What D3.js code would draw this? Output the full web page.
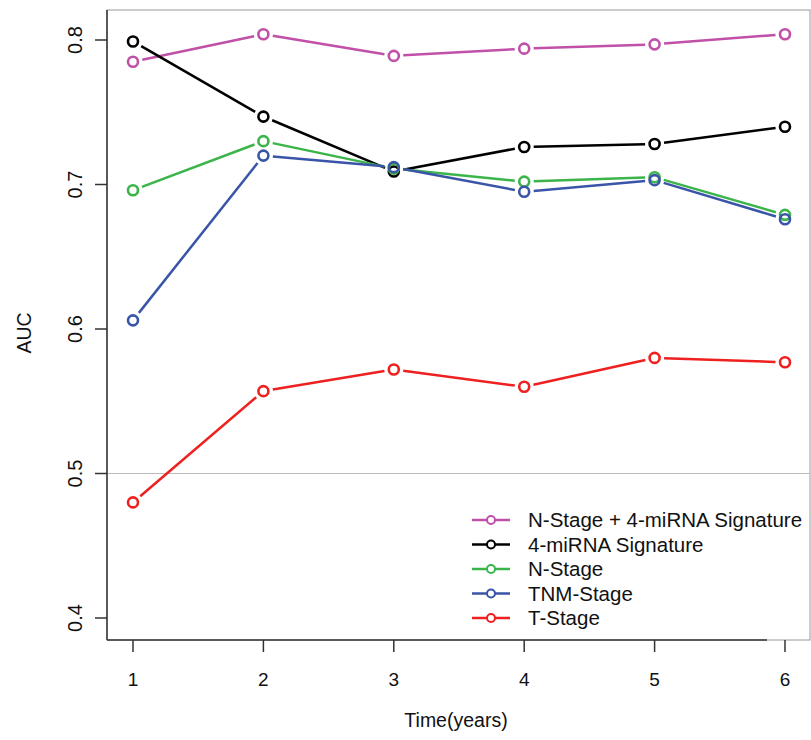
<!DOCTYPE html>
<html>
<head>
<meta charset="utf-8">
<script src="https://cdn.jsdelivr.net/npm/d3@7"></script>
<style>
    body { margin: 0; background: #fff; }
    text { font-family: "Liberation Sans", Arial, sans-serif; fill: #111; }
</style>
</head>
<body>
<div id="chart"></div>
<script>
// data
const years = [1, 2, 3, 4, 5, 6]
const seriesNames = ["N-Stage + 4-miRNA Signature", "4-miRNA Signature", "N-Stage", "TNM-Stage", "T-Stage"]
const seriesColors = ["#c050a8", "#000000", "#3bb44a", "#3a55a8", "#ee2020"]
const combinedAUC = [0.785, 0.804, 0.789, 0.794, 0.797, 0.804]
const signatureAUC = [0.799, 0.747, 0.709, 0.726, 0.728, 0.740]
const nStageAUC = [0.696, 0.730, 0.711, 0.702, 0.705, 0.679]
const tnmStageAUC = [0.606, 0.720, 0.712, 0.695, 0.703, 0.676]
const tStageAUC = [0.480, 0.557, 0.572, 0.560, 0.580, 0.577]
const yTicks = [0.4, 0.5, 0.6, 0.7, 0.8]

const allSeries = [combinedAUC, signatureAUC, nStageAUC, tnmStageAUC, tStageAUC]

const W = 811, H = 740
const svg = d3.select("#chart").append("svg")
    .attr("width", W)
    .attr("height", H)

// plot region
const box = {left: 107, right: 810, top: 10, bottom: 640}

const x = d3.scaleLinear().domain([1, 6]).range([133, 785])
const y = d3.scaleLinear().domain([0.4, 0.8]).range([618, 40])

// gray frame
svg.append("rect")
    .attr("x", box.left).attr("y", box.top)
    .attr("width", box.right - box.left)
    .attr("height", box.bottom - box.top)
    .attr("fill", "none")
    .attr("stroke", "#9a9a9a")
    .attr("stroke-width", 1)

// reference line at 0.5
svg.append("line")
    .attr("x1", box.left).attr("x2", box.right)
    .attr("y1", y(0.5)).attr("y2", y(0.5))
    .attr("stroke", "#bbbbbb")
    .attr("stroke-width", 1)

// left axis
svg.append("line")
    .attr("x1", box.left).attr("x2", box.left)
    .attr("y1", box.top).attr("y2", box.bottom)
    .attr("stroke", "#333").attr("stroke-width", 1.5)

yTicks.forEach(function(t) {
    svg.append("line")
        .attr("x1", box.left - 12).attr("x2", box.left)
        .attr("y1", y(t)).attr("y2", y(t))
        .attr("stroke", "#333").attr("stroke-width", 1.5)
    svg.append("text")
        .attr("transform", "translate(82," + y(t) + ") rotate(-90)")
        .attr("text-anchor", "middle")
        .style("font-size", "20px")
        .text(t.toFixed(1))
})

// bottom axis
svg.append("line")
    .attr("x1", box.left).attr("x2", 767)
    .attr("y1", box.bottom).attr("y2", box.bottom)
    .attr("stroke", "#333").attr("stroke-width", 1.5)

years.forEach(function(t) {
    svg.append("line")
        .attr("x1", x(t)).attr("x2", x(t))
        .attr("y1", box.bottom).attr("y2", box.bottom + 12)
        .attr("stroke", "#333").attr("stroke-width", 1.5)
    svg.append("text")
        .attr("x", x(t)).attr("y", 686)
        .attr("text-anchor", "middle")
        .style("font-size", "19px")
        .text(t)
})

// axis labels
svg.append("text")
    .attr("x", 456).attr("y", 727)
    .attr("text-anchor", "middle")
    .style("font-size", "19.5px")
    .text("Time(years)")

svg.append("text")
    .attr("transform", "translate(31,333) rotate(-90)")
    .attr("text-anchor", "middle")
    .style("font-size", "19.5px")
    .text("AUC")

// lines with gaps around the points (like R type="b")
const gap = 9.5
allSeries.forEach(function(vals, i) {
    const g = svg.append("g")
    const pts = years.map(function(yr, j) { return [x(yr), y(vals[j])] })
    for (let j = 0; j < pts.length - 1; j++) {
        const p = pts[j], q = pts[j + 1]
        const dx = q[0] - p[0], dy = q[1] - p[1]
        const len = Math.sqrt(dx * dx + dy * dy)
        const ux = dx / len, uy = dy / len
        g.append("line")
            .attr("x1", p[0] + ux * gap).attr("y1", p[1] + uy * gap)
            .attr("x2", q[0] - ux * gap).attr("y2", q[1] - uy * gap)
            .attr("stroke", seriesColors[i])
            .attr("stroke-width", 2.5)
    }
    g.selectAll("circle")
        .data(pts)
        .enter()
        .append("circle")
        .attr("cx", function(d) { return d[0] })
        .attr("cy", function(d) { return d[1] })
        .attr("r", 5)
        .attr("fill", "none")
        .attr("stroke", seriesColors[i])
        .attr("stroke-width", 2.6)
})

// legend
const legend = svg.append("g")
seriesNames.forEach(function(name, i) {
    const ly = 520 + i * 24.5
    legend.append("line")
        .attr("x1", 472).attr("x2", 510)
        .attr("y1", ly).attr("y2", ly)
        .attr("stroke", seriesColors[i]).attr("stroke-width", 2.4)
    legend.append("circle")
        .attr("cx", 491).attr("cy", ly).attr("r", 4)
        .attr("fill", "#fff")
        .attr("stroke", seriesColors[i]).attr("stroke-width", 2)
    legend.append("text")
        .attr("x", 528).attr("y", ly + 7)
        .style("font-size", "20.5px")
        .text(name)
})
</script>
</body>
</html>
